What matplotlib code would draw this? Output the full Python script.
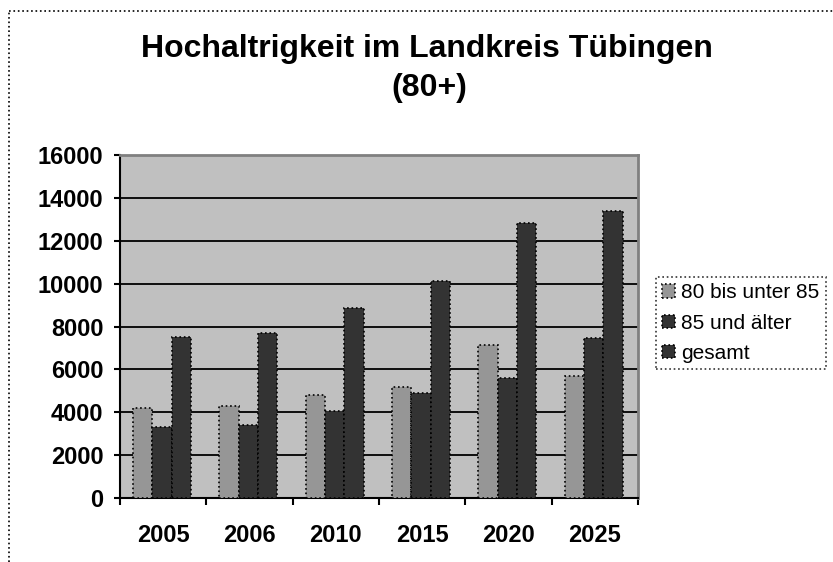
import matplotlib
matplotlib.use("Agg")
import matplotlib.pyplot as plt
from matplotlib.lines import Line2D
import numpy as np

plt.rcParams['font.family'] = ['Liberation Sans', 'DejaVu Sans']

years = ["2005", "2006", "2010", "2015", "2020", "2025"]
s_80_85 = [4200, 4300, 4800, 5200, 7150, 5700]
s_85plus = [3300, 3400, 4050, 4900, 5620, 7450]
s_total = [7500, 7700, 8850, 10100, 12820, 13400]
series_names = ["80 bis unter 85", "85 und älter", "gesamt"]
yticks = [0, 2000, 4000, 6000, 8000, 10000, 12000, 14000, 16000]

fig = plt.figure(figsize=(8.33, 5.62), dpi=100)
ax = fig.add_axes([120/833, 64/562, 518/833, 343/562])
ax.set_facecolor("#C0C0C0")

x = np.arange(len(years))
w = 0.224
colors = ["#969696", "#333333", "#333333"]
for i, (vals, name) in enumerate(zip([s_80_85, s_85plus, s_total], series_names)):
    ax.bar(x + (i - 1) * w - 0.015, vals, w, color=colors[i], edgecolor="black",
           linestyle=":", linewidth=1.2, label=name, zorder=3)

ax.set_xlim(-0.5, len(years) - 0.5)
ax.set_ylim(0, 16000)
ax.set_yticks(yticks)
ax.set_yticklabels([str(v) for v in yticks], fontsize=17, fontweight="bold")
ax.yaxis.grid(True, color="black", linewidth=1.3, zorder=1)
ax.set_axisbelow(True)

ax.set_xticks(x)
ax.set_xticklabels(years, fontsize=17, fontweight="bold")
ax.set_xticks(np.arange(len(years) + 1) - 0.5, minor=True)
ax.tick_params(axis="x", which="major", length=0, pad=19)
ax.tick_params(axis="x", which="minor", length=5, width=1.5, direction="out")
ax.tick_params(axis="y", length=4, width=1.5, direction="out", pad=8)

for s in ["top", "right"]:
    ax.spines[s].set_color("#808080")
    ax.spines[s].set_linewidth(2)
for s in ["left", "bottom"]:
    ax.spines[s].set_color("black")
    ax.spines[s].set_linewidth(1.5)

fig.text(427/833, 1 - 49/562, "Hochaltrigkeit im Landkreis Tübingen", ha="center",
         va="center", fontsize=23, fontweight="bold")
fig.text(429/833, 1 - 88/562, "(80+)", ha="center", va="center",
         fontsize=23, fontweight="bold")

leg = fig.legend(loc="upper left", bbox_to_anchor=(656/833, 1 - 277/562),
                 fontsize=15, frameon=True, fancybox=False, handlelength=0.6,
                 handleheight=0.6, handletextpad=0.3, labelspacing=0.55,
                 borderpad=0.3, borderaxespad=0)
leg.get_frame().set_edgecolor("black")
leg.get_frame().set_linestyle(":")
leg.get_frame().set_linewidth(1.2)

# dotted chart border (left and top)
fig.add_artist(Line2D([9/833, 9/833], [0, 1 - 11/562], transform=fig.transFigure,
                      color="black", linestyle=":", linewidth=1.2))
fig.add_artist(Line2D([9/833, 1], [1 - 11/562, 1 - 11/562], transform=fig.transFigure,
                      color="black", linestyle=":", linewidth=1.2))

fig.savefig("out.png", dpi=100)
